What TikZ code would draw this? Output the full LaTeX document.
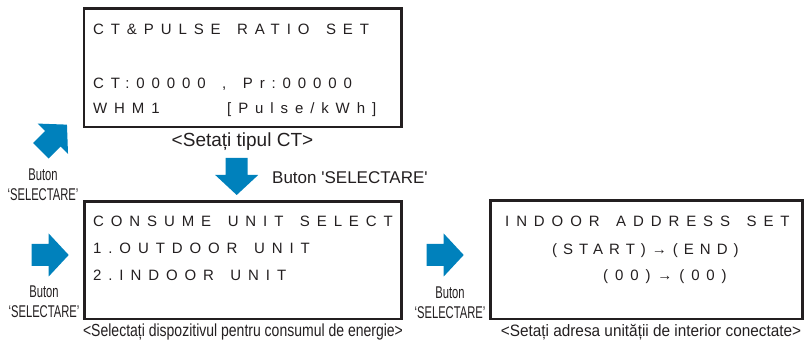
\documentclass[tikz,border=0pt]{standalone}
\usepackage{fontspec}
\setmainfont{Liberation Sans}
\newfontfamily\lcdfont[LetterSpace=46]{Liberation Sans}
\newfontfamily\lcdtight[LetterSpace=40]{Liberation Sans}
\newfontfamily\narrowfont[FakeStretch=0.66]{Liberation Sans}
\newfontfamily\captionfont[FakeStretch=0.8]{Liberation Sans}
\newfontfamily\captionwide[FakeStretch=0.93]{Liberation Sans}
\newcommand\lcdspace{\spaceskip=16.5pt\relax}
\definecolor{lgblue}{RGB}{0,129,188}
\definecolor{ink}{RGB}{35,31,32}

\begin{document}
\begin{tikzpicture}[x=1pt, y=-1pt,
            screen/.style={draw=ink, line width=2.6pt, inner sep=0pt},
            lcd/.style={anchor=base west, inner sep=0pt, text=ink, font=\lcdfont\fontsize{15}{18}\selectfont\lcdspace},
            button/.style={align=center, inner sep=0pt, text=ink, font=\narrowfont\fontsize{17}{20}\selectfont},
            caption/.style={anchor=base, inner sep=0pt, text=ink},
            blockarrow/.pic={\fill[lgblue] (0,-11) -- (17,-11) -- (17,-21.5) -- (37,0) -- (17,21.5) -- (17,11) -- (0,11) -- cycle;}
            ]
            \useasboundingbox (0,0) rectangle (804,347);

            % screens
            \node[screen, minimum width=317.5, minimum height=118.3] (ctbox) at (242.75,67.85) {};
            \node[screen, minimum width=317, minimum height=117.7] (unitbox) at (243,260.15) {};
            \node[screen, minimum width=311.8, minimum height=118.3] (addrbox) at (646.6,259.85) {};

            \node[lcd] (ct1) at (93,35) {CT\&PULSE RATIO SET};
            \node[lcd] (ct2) at (93,89) {CT:00000 , Pr:00000};
            \node[lcd] (ct3) at (93,114) {WHM1};
            \node[lcd] (ct4) at (227,114) {[Pulse/kWh]};

            \node[lcd] (cu1) at (93,227) {CONSUME UNIT SELECT};
            \node[lcd] (cu2) at (93,254) {1.OUTDOOR UNIT};
            \node[lcd] (cu3) at (93,281) {2.INDOOR UNIT};

            \node[lcd] (ia1) at (505,227) {INDOOR ADDRESS SET};
            \node[lcd, font=\lcdtight\fontsize{15}{18}\selectfont] (ia2) at (552,255) {(START)→(END)};
            \node[lcd] (ia3) at (603,281) {(00)→(00)};

            \node[caption, font=\fontsize{19}{21}\selectfont] (ctcap) at (242.5,146.5) {<Setați tipul CT>};
            \node[caption, font=\captionfont\fontsize{17.5}{20}\selectfont] (unitcap) at (243,336.5) {<Selectați dispozitivul pentru consumul de energie>};
            \node[caption, font=\captionwide\fontsize{16.5}{20}\selectfont] (addrcap) at (651,337) {<Setați adresa unității de interior conectate>};

            % buttons
            \pic[rotate=45] at (40.8,150.8) {blockarrow};
            \pic[rotate=-90] at (236.7,158) {blockarrow};
            \pic at (31.7,255) {blockarrow};
            \pic at (426.7,255) {blockarrow};

            \node[button] (btnup) at (43,185) {Buton\\‘SELECTARE’};
            \node[button] (btnleft) at (44,302) {Buton\\‘SELECTARE’};
            \node[button] (btnmid) at (450,303) {Buton\\‘SELECTARE’};
            \node[anchor=base west, inner sep=0pt, text=ink, font=\fontsize{17}{20}\selectfont] (btndown) at (272,184) {Buton \textquotesingle SELECTARE\textquotesingle};

\end{tikzpicture}
\end{document}
